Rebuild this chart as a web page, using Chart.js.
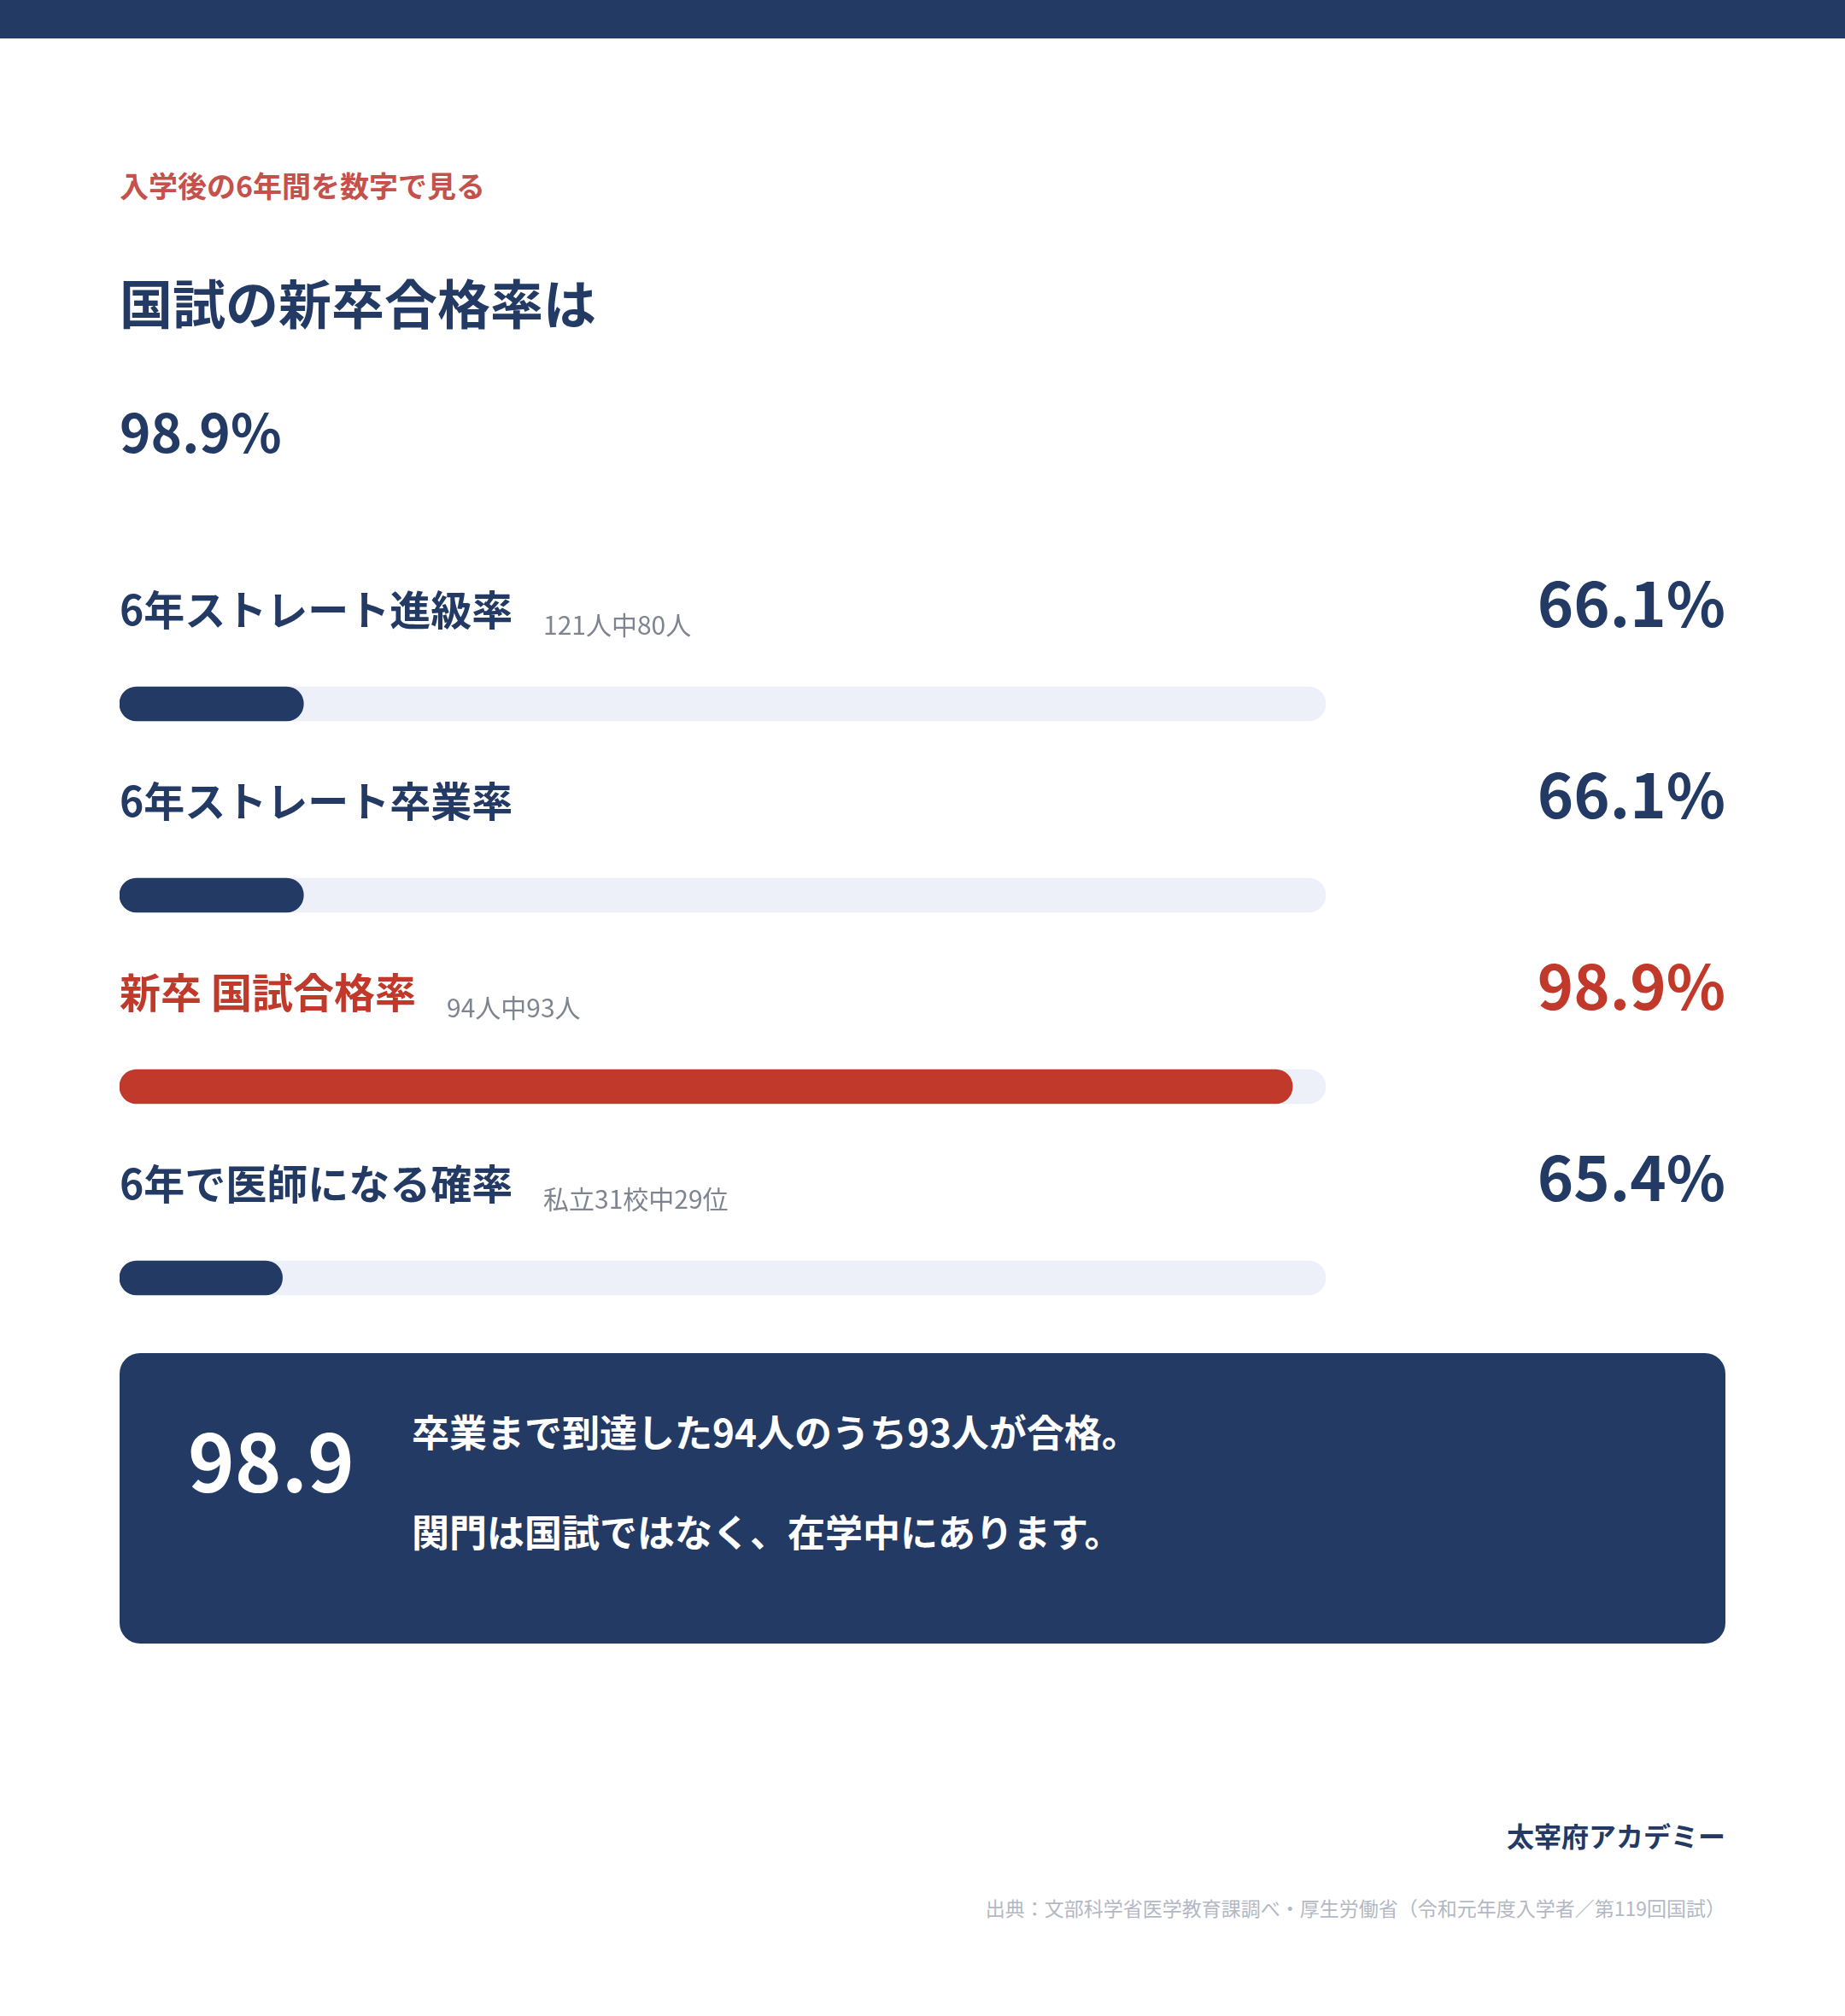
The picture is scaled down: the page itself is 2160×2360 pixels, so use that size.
<!DOCTYPE html>
<html lang="ja">
<head>
<meta charset="utf-8">
<script src="https://cdn.jsdelivr.net/npm/chart.js@4.4.1/dist/chart.umd.min.js"></script>
<style>
  html, body { margin: 0; padding: 0; background: #ffffff; }
  body { width: 2160px; height: 2360px; position: relative; overflow: hidden;
         font-family: "Noto Sans CJK JP", "Noto Sans", sans-serif; }
  .t { position: absolute; white-space: nowrap; line-height: 1; }
  #topbar { position: absolute; left: 0; top: 0; width: 2160px; height: 45px; background: #223A64; }
  #chartWrap { position: absolute; left: 140px; top: 712px; width: 1412px; height: 896px; }
  #box { position: absolute; left: 140px; top: 1584px; width: 1880px; height: 340px;
         background: #223A64; border-radius: 24px; }
</style>
</head>
<body>
<div id="topbar"></div>
<div class="t" id="kicker"></div>
<div class="t" id="title"></div>
<div class="t" id="headline"></div>
<div id="chartWrap"><canvas id="c" width="1412" height="896"></canvas></div>
<div id="labels"></div>
<div id="box"></div>
<div class="t" id="boxNum"></div>
<div class="t" id="boxLine1"></div>
<div class="t" id="boxLine2"></div>
<div class="t" id="brand"></div>
<div class="t" id="source"></div>
<script>
// ---- data ----
const kickerText = '入学後の6年間を数字で見る';
const titleText = '国試の新卒合格率は';
const categories = ['6年ストレート進級率', '6年ストレート卒業率', '新卒 国試合格率', '6年で医師になる確率'];
const notes = ['121人中80人', '', '94人中93人', '私立31校中29位'];
const rates = [66.1, 66.1, 98.9, 65.4];
const highlightIndex = 2;
const axisMin = 60;
const axisMax = 100;
const trackValues = [100, 100, 100, 100];
const boxNumber = '98.9';
const boxLines = ['卒業まで到達した94人のうち93人が合格。', '関門は国試ではなく、在学中にあります。'];
const brandText = '太宰府アカデミー';
const sourceText = '出典：文部科学省医学教育課調べ・厚生労働省（令和元年度入学者／第119回国試）';

// ---- styles ----
const NAVY = '#223A64';
const RED = '#C0392B';
const KICKER_RED = '#C4514B';
const TRACK = '#EDF0F8';
const NOTE_GRAY = '#7F8590';
const SRC_GRAY = '#B3B8C4';
const YSHIFT = -3;

function place(el, text, opts) {
  el.textContent = text;
  el.style.fontSize = opts.size + 'px';
  el.style.fontWeight = opts.weight || 700;
  el.style.color = opts.color;
  el.style.top = (opts.cy - opts.size / 2 + YSHIFT) + 'px';
  if (opts.right !== undefined) { el.style.right = opts.right + 'px'; }
  else { el.style.left = opts.x + 'px'; }
}

place(document.getElementById('kicker'), kickerText, {x: 140, cy: 220, size: 34, color: KICKER_RED});
place(document.getElementById('title'), titleText, {x: 140, cy: 356, size: 62, color: NAVY});
place(document.getElementById('headline'), rates[highlightIndex].toFixed(1) + '%', {x: 140, cy: 506, size: 62, color: NAVY});
place(document.getElementById('boxNum'), boxNumber, {x: 220, cy: 1709, size: 93, color: '#ffffff'});
place(document.getElementById('boxLine1'), boxLines[0], {x: 482, cy: 1678, size: 44, color: '#ffffff'});
place(document.getElementById('boxLine2'), boxLines[1], {x: 482, cy: 1795, size: 44, color: '#ffffff'});
place(document.getElementById('brand'), brandText, {right: 140, cy: 2151, size: 32, color: NAVY});
place(document.getElementById('source'), sourceText, {right: 140, cy: 2236, size: 23, color: SRC_GRAY, weight: 400});

const labelLayer = document.getElementById('labels');
const rowEls = categories.map((cat, i) => {
  const lab = document.createElement('div'); lab.className = 't';
  const note = document.createElement('div'); note.className = 't';
  const val = document.createElement('div'); val.className = 't';
  labelLayer.appendChild(lab); labelLayer.appendChild(note); labelLayer.appendChild(val);
  return {lab, note, val};
});

const labelPlugin = {
  id: 'rowLabels',
  afterRender(chart) {
    const wrap = document.getElementById('chartWrap');
    const top = wrap.offsetTop;
    const meta = chart.getDatasetMeta(0);
    categories.forEach((cat, i) => {
      const barY = top + meta.data[i].y;
      const color = i === highlightIndex ? RED : NAVY;
      const r = rowEls[i];
      place(r.lab, cat, {x: 140, cy: barY - 110, size: 48, color});
      place(r.val, rates[i].toFixed(1) + '%', {right: 140, cy: barY - 118, size: 72, color});
      if (notes[i]) {
        const labRight = 140 + r.lab.offsetWidth;
        place(r.note, notes[i], {x: labRight + 36, cy: barY - 91, size: 30, color: NOTE_GRAY, weight: 400});
      }
    });
  }
};

new Chart(document.getElementById('c'), {
  type: 'bar',
  data: {
    labels: categories,
    datasets: [
      {
        data: rates,
        base: axisMin,
        backgroundColor: rates.map((v, i) => i === highlightIndex ? RED : NAVY),
        borderRadius: 20,
        borderSkipped: false,
        barThickness: 40,
        grouped: false,
        order: 0
      },
      {
        data: trackValues,
        base: axisMin,
        backgroundColor: TRACK,
        borderRadius: 20,
        borderSkipped: false,
        barThickness: 40,
        grouped: false,
        order: 1
      }
    ]
  },
  options: {
    indexAxis: 'y',
    responsive: false,
    animation: false,
    layout: { padding: 0 },
    plugins: { legend: { display: false }, tooltip: { enabled: false } },
    scales: {
      x: { type: 'linear', min: axisMin, max: axisMax, display: false },
      y: { type: 'category', display: false }
    }
  },
  plugins: [labelPlugin]
});
</script>
</body>
</html>
